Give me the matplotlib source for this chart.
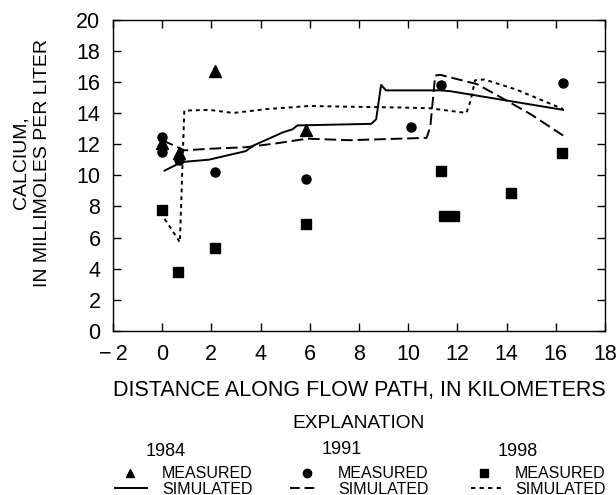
import numpy as np
import matplotlib
matplotlib.use("Agg")
import matplotlib.pyplot as plt
from matplotlib.lines import Line2D

plt.rcParams['font.family'] = ['Liberation Sans', 'DejaVu Sans']

# measured values (distance km, calcium mmol/L)
m84_x = [0.0, 0.7, 2.15, 5.85]
m84_y = [12.1, 11.4, 16.7, 12.9]
m91_x = [0.0, 0.0, 0.7, 2.15, 5.85, 10.1, 11.35, 16.3]
m91_y = [12.45, 11.5, 11.0, 10.2, 9.75, 13.1, 15.8, 15.9]
m98_x = [0.0, 0.65, 2.15, 5.85, 11.35, 11.45, 11.85, 14.2, 16.25]
m98_y = [7.8, 3.8, 5.35, 6.85, 10.3, 7.4, 7.4, 8.85, 11.45]

# simulated curves
s84_x = [0.1, 0.8, 1.9, 3.4, 3.7, 4.9, 5.3, 5.5, 8.5, 8.7, 8.9, 9.1, 11.3, 11.7, 14.0, 16.3]
s84_y = [10.3, 10.85, 11.0, 11.55, 11.9, 12.75, 12.95, 13.2, 13.3, 13.6, 15.8, 15.45, 15.45, 15.4, 14.8, 14.2]
s91_x = [0.0, 0.7, 0.9, 1.9, 3.4, 4.65, 5.9, 7.6, 9.7, 10.75, 10.9, 11.1, 11.3, 12.8, 14.0, 15.0, 16.3]
s91_y = [12.25, 11.75, 11.6, 11.7, 11.8, 12.05, 12.35, 12.25, 12.35, 12.4, 13.1, 16.4, 16.45, 15.85, 14.8, 13.9, 12.55]
s98_x = [0.1, 0.72, 0.9, 1.9, 2.9, 4.25, 6.0, 7.6, 9.7, 10.9, 12.37, 12.54, 12.72, 13.1, 14.4, 16.3]
s98_y = [7.2, 5.7, 14.15, 14.2, 14.0, 14.25, 14.45, 14.4, 14.35, 14.3, 14.0, 14.8, 16.1, 16.15, 15.5, 14.25]

years = ["1984", "1991", "1998"]
x_ticks = list(range(-2, 19, 2))
y_ticks = list(range(0, 21, 2))

fig = plt.figure(figsize=(6.16, 4.95), dpi=100)
ax = fig.add_axes([0.1834, 0.3313, 0.7986, 0.6293])

dash91 = (0, (6, 2.5))
dot98 = (0, (2, 2))
ax.plot(s84_x, s84_y, color="black", lw=1.4, ls="-")
ax.plot(s91_x, s91_y, color="black", lw=1.4, ls=dash91)
ax.plot(s98_x, s98_y, color="black", lw=1.4, ls=dot98)
ax.plot(m84_x, m84_y, "^", color="black", ms=8, ls="none")
ax.plot(m91_x, m91_y, "o", color="black", ms=6.5, ls="none")
ax.plot(m98_x, m98_y, "s", color="black", ms=6.5, ls="none")

ax.set_xlim(-2, 18)
ax.set_ylim(0, 20)
ax.set_xticks(x_ticks)
ax.set_yticks(y_ticks)
ax.set_xticklabels([str(v).replace("-", "\u2212\u2009") for v in x_ticks])
ax.tick_params(direction="in", length=6, width=1, top=True, right=True,
               labelsize=15.5)
ax.tick_params(axis="x", pad=9)
ax.tick_params(axis="y", pad=9)
for s in ax.spines.values():
    s.set_linewidth(1)
ax.set_xlabel("DISTANCE ALONG FLOW PATH, IN KILOMETERS", fontsize=15.5, labelpad=11)
ax.set_ylabel("CALCIUM,\nIN MILLIMOLES PER LITER", fontsize=14, linespacing=1.35)
ax.yaxis.set_label_coords(-0.125, 0.54)

# explanation block
W, H = 616.0, 495.0
def fx(px):
    return px / W
def fy(py):
    return 1 - py / H

fig.text(fx(358), fy(424), "EXPLANATION", ha="center", va="center", fontsize=13.8)
year_x = [166, 342, 518]
year_y = [452, 449, 452]
mark_x = [130, 307, 484]
line_x = [(115, 147), (290, 316), (471, 501)]
text_x = [162, 338, 515]
markers = ["^", "o", "s"]
styles = ["-", (0, (5, 2.5)), (0, (2.2, 2.2))]
for i, yr in enumerate(years):
    fig.text(fx(year_x[i]), fy(year_y[i]), yr, ha="center", va="center", fontsize=13)
    fig.add_artist(Line2D([fx(mark_x[i])], [fy(473)], marker=markers[i],
                          color="black", ms=6, ls="none"))
    fig.add_artist(Line2D([fx(line_x[i][0]), fx(line_x[i][1])], [fy(488), fy(488)],
                          color="black", lw=1.4, ls=styles[i]))
    fig.text(fx(text_x[i]), fy(473), "MEASURED", ha="left", va="center", fontsize=11.5)
    fig.text(fx(text_x[i]), fy(489), "SIMULATED", ha="left", va="center", fontsize=11.5)

fig.savefig("out.png", dpi=100)
